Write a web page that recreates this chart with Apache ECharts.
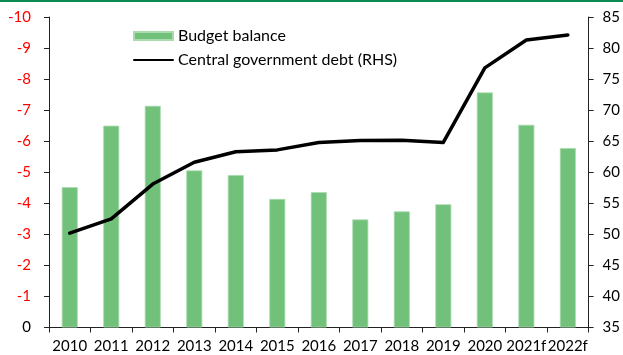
<!DOCTYPE html>
<html>
<head>
<meta charset="utf-8">
<script src="https://cdn.jsdelivr.net/npm/echarts@6/dist/echarts.min.js"></script>
<style>
  html, body { margin: 0; padding: 0; background: #fff; }
  #chart { width: 623px; height: 355px; }
</style>
</head>
<body>
<div id="chart"></div>
<script>
// Years on the category axis
const years = ['2010', '2011', '2012', '2013', '2014', '2015', '2016', '2017', '2018', '2019', '2020', '2021f', '2022f'];
// Budget balance, % of GDP (left axis, inverted)
const budgetBalance = [-4.52, -6.50, -7.14, -5.06, -4.91, -4.14, -4.36, -3.48, -3.74, -3.97, -7.57, -6.53, -5.78];
// Central government debt, % of GDP (right axis)
const govDebt = [50.2, 52.5, 58.1, 61.6, 63.3, 63.6, 64.8, 65.1, 65.15, 64.8, 76.8, 81.3, 82.1];
// Tick values
const leftTicks = [0, -1, -2, -3, -4, -5, -6, -7, -8, -9, -10];
const rightTicks = [35, 40, 45, 50, 55, 60, 65, 70, 75, 80, 85];

const FONT = 'Lato, "Open Sans", sans-serif';
const chart = echarts.init(document.getElementById('chart'), null, { renderer: 'canvas' });

chart.setOption({
  animation: false,
  backgroundColor: '#ffffff',
  textStyle: { fontFamily: FONT },
  graphic: [{
    type: 'rect',
    left: 0, top: 0,
    shape: { width: 623, height: 2 },
    style: { fill: '#0a8a50' },
    silent: true
  }],
  grid: { left: 49, right: 31, top: 17, bottom: 27.5, containLabel: false },
  legend: {
    orient: 'vertical',
    left: 133,
    top: 28,
    padding: 0,
    itemGap: 8,
    itemWidth: 39,
    itemHeight: 8,
    textStyle: { fontFamily: FONT, fontSize: 16, color: '#000' },
    data: [
      { name: 'Budget balance', icon: 'rect' },
      { name: 'Central government debt (RHS)', itemStyle: { opacity: 0 } }
    ]
  },
  xAxis: {
    type: 'category',
    data: years,
    boundaryGap: true,
    axisLine: { lineStyle: { color: '#222', width: 1 } },
    axisTick: { show: true, length: 5, lineStyle: { color: '#222' } },
    axisLabel: { fontFamily: FONT, fontSize: 15, color: '#000', margin: 11, interval: 0 }
  },
  yAxis: [{
    type: 'value',
    inverse: true,
    min: -10,
    max: 0,
    interval: 1,
    splitLine: { show: false },
    axisLine: { show: true, lineStyle: { color: '#222' } },
    axisTick: { show: true, length: 5, lineStyle: { color: '#222' } },
    axisLabel: {
      fontFamily: FONT, fontSize: 15, margin: 18,
      color: function (v) { return Number(v) === 0 ? '#000' : '#ff0000'; },
      formatter: function (v) { return leftTicks.indexOf(v) >= 0 ? String(v) : ''; }
    }
  }, {
    type: 'value',
    min: 35,
    max: 85,
    interval: 5,
    position: 'right',
    splitLine: { show: false },
    axisLine: { show: true, lineStyle: { color: '#222' } },
    axisTick: { show: true, length: 5, lineStyle: { color: '#222' } },
    axisLabel: {
      fontFamily: FONT, fontSize: 15, color: '#000', margin: 14,
      formatter: function (v) { return rightTicks.indexOf(v) >= 0 ? String(v) : ''; }
    }
  }],
  series: [{
    name: 'Budget balance',
    type: 'bar',
    yAxisIndex: 0,
    data: budgetBalance,
    barWidth: 16,
    itemStyle: { color: '#72c17b', borderColor: '#a9dbae', borderWidth: 0.8 }
  }, {
    name: 'Central government debt (RHS)',
    type: 'line',
    yAxisIndex: 1,
    data: govDebt,
    showSymbol: false,
    symbol: 'none',
    lineStyle: { color: '#000', width: 3.5, join: 'round', cap: 'round' },
    itemStyle: { color: '#000' }
  }]
});
</script>
</body>
</html>
